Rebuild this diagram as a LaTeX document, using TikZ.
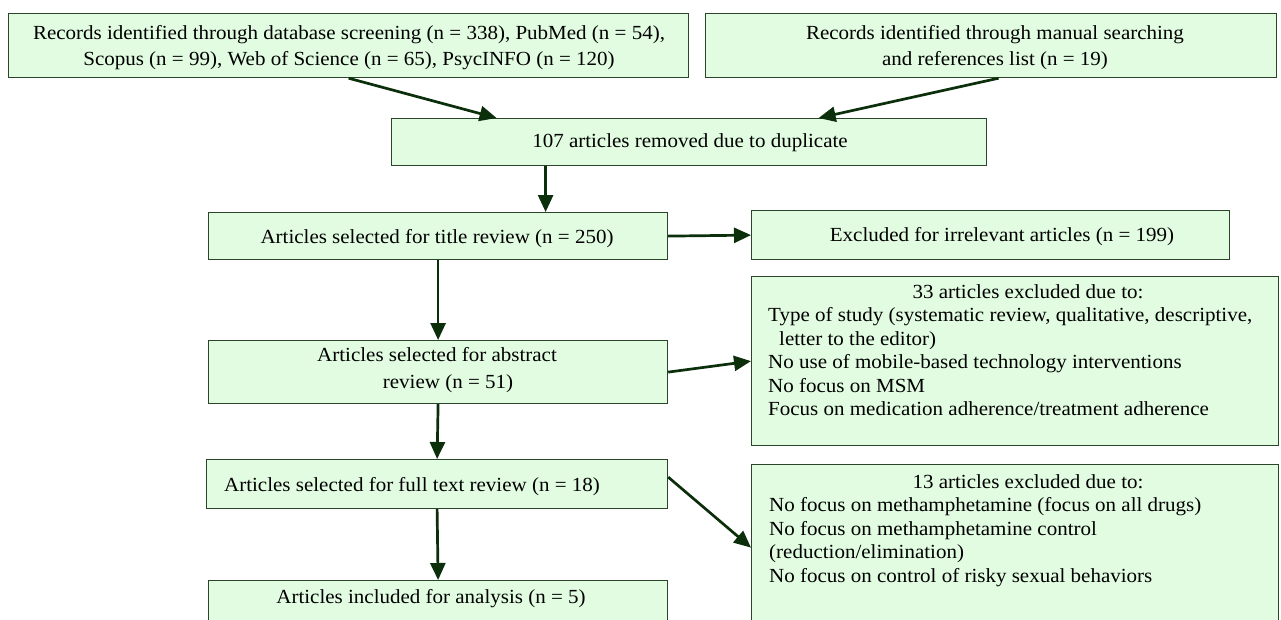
\documentclass[tikz,border=0pt]{standalone}
\usepackage{fontspec}
\setmainfont{Liberation Serif}[FakeStretch=1.05]
\usetikzlibrary{arrows.meta}
\definecolor{fillcol}{HTML}{E2FCE2}
\definecolor{bordercol}{HTML}{2A452A}
\definecolor{arrcol}{HTML}{0B2E0B}
\begin{document}
\begin{tikzpicture}[x=1pt,y=-1pt,
  box/.style={draw=bordercol, line width=1.2pt, fill=fillcol, inner sep=0pt, anchor=north west},
  txt/.style={inner sep=0pt, anchor=base, font=\fontsize{20pt}{24pt}\selectfont},
  ltxt/.style={txt, anchor=base west},
  arr/.style={draw=arrcol, line width=2.7pt, -{Triangle[length=17pt,width=15pt]}}]
\useasboundingbox (0,0) rectangle (1281,619);
\clip (0,0) rectangle (1281,619);
\fill[white] (0,0) rectangle (1281,619);
% boxes
\node[box, minimum width=680pt, minimum height=64pt] (A) at (8,13) {};
\node[box, minimum width=571pt, minimum height=64pt] (B) at (705,13) {};
\node[box, minimum width=595pt, minimum height=47pt] (C) at (391,118) {};
\node[box, minimum width=459pt, minimum height=47pt] (T) at (208,212) {};
\node[box, minimum width=478pt, minimum height=49pt] (X) at (751,210) {};
\node[box, minimum width=459pt, minimum height=63pt] (AB) at (208,340) {};
\node[box, minimum width=527pt, minimum height=169pt] (E33) at (751,276) {};
\node[box, minimum width=461pt, minimum height=49pt] (F) at (206,459) {};
\node[box, minimum width=527pt, minimum height=170pt] (E13) at (751,464) {};
\node[box, minimum width=459pt, minimum height=50pt] (AN) at (208,580) {};
% texts
\node[txt] (a1) at (349,39) {Records identified through database screening (n = 338), PubMed (n = 54),};
\node[txt] (a2) at (349,65) {Scopus (n = 99), Web of Science (n = 65), PsycINFO (n = 120)};
\node[txt] (b1) at (995,39) {Records identified through manual searching};
\node[txt] (b2) at (995,65) {and references list (n = 19)};
\node[txt] (c1) at (690,147) {107 articles removed due to duplicate};
\node[txt] (t1) at (437,243) {Articles selected for title review (n = 250)};
\node[txt] (x1) at (1002,241) {Excluded for irrelevant articles (n = 199)};
\node[txt] (ab1) at (437,361) {Articles selected for abstract};
\node[txt] (ab2) at (448,388) {review (n = 51)};
\node[txt] (e1) at (1028,298) {33 articles excluded due to:};
\node[ltxt] (e2) at (768,321.5) {Type of study (systematic review, qualitative, descriptive,};
\node[ltxt] (e3) at (779,345) {letter to the editor)};
\node[ltxt] (e4) at (768,368.5) {No use of mobile-based technology interventions};
\node[ltxt] (e5) at (768,392) {No focus on MSM};
\node[ltxt] (e6) at (768,415.5) {Focus on medication adherence/treatment adherence};
\node[txt] (f1) at (412,491) {Articles selected for full text review (n = 18)};
\node[txt] (g1) at (1028,488) {13 articles excluded due to:};
\node[ltxt] (g2) at (769,511.5) {No focus on methamphetamine (focus on all drugs)};
\node[ltxt] (g3) at (769,535) {No focus on methamphetamine control};
\node[ltxt] (g4) at (769,558.5) {(reduction/elimination)};
\node[ltxt] (g5) at (769,582) {No focus on control of risky sexual behaviors};
\node[txt] (an1) at (431,603) {Articles included for analysis (n = 5)};
% connectors
\draw[arr] (A.south) -- ([xshift=-192.5pt]C.north);
\draw[arr] ([xshift=7.5pt]B.south) -- ([xshift=129.5pt]C.north);
\draw[arr] ([xshift=-143.5pt]C.south) -- ([xshift=107.5pt]T.north);
\draw[arr] (T.east) -- (X.west);
\draw[arr] (T.south) -- (AB.north);
\draw[arr] (AB.east) -- (E33.west);
\draw[arr] (AB.south) -- (F.north);
\draw[arr] ([yshift=7pt]F.east) -- ([yshift=2pt]E13.west);
\draw[arr] (F.south) -- (AN.north);
\end{tikzpicture}
\end{document}
